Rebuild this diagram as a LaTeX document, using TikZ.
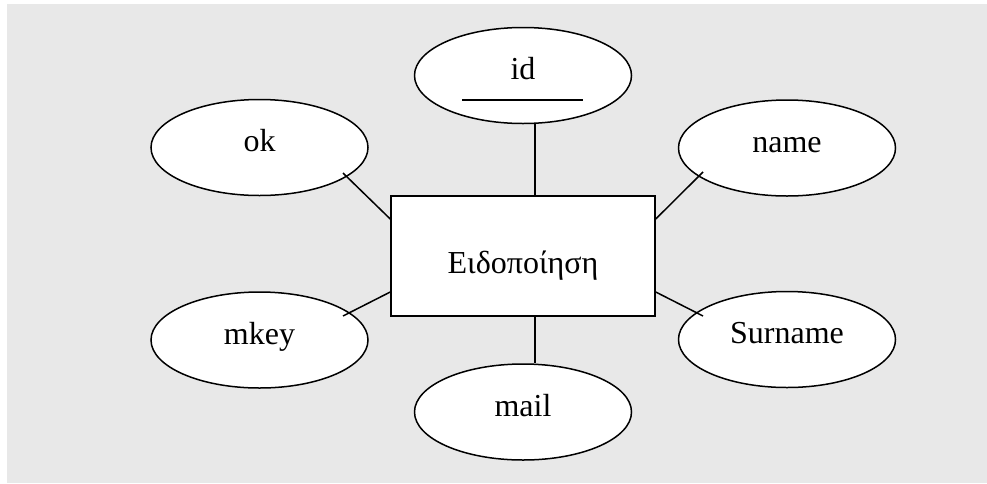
\documentclass[tikz,border=0pt]{standalone}
\usepackage{fontspec}
\setmainfont{Liberation Serif}
\usetikzlibrary{shapes.geometric,calc}
\definecolor{bggray}{RGB}{232,232,232}
\begin{document}
\begin{tikzpicture}[x=1pt,y=-1pt,
  attr/.style={ellipse,draw,fill=white,line width=1.5pt,inner sep=0pt,
    minimum width=217pt,minimum height=96pt,
    font=\fontsize{32}{38}\selectfont,text height=20pt,text depth=12pt},
  entbox/.style={rectangle,draw,fill=white,line width=1.5pt,inner sep=0pt,
    minimum width=264pt,minimum height=120pt,
    font=\fontsize{32}{38}\selectfont,text height=40pt,text depth=6pt},
  conn/.style={line width=1.5pt}]
\useasboundingbox (0,0) rectangle (987,483);
\fill[bggray] (7,4) rectangle (987,483);
\node[entbox] (ent) at (523,256) {Ειδοποίηση};
\node[attr] (id) at (523,75.5) {id};
\node[attr] (ok) at (259.5,147.5) {ok};
\node[attr] (name) at (787,148) {name};
\node[attr] (mkey) at (259.5,340) {mkey};
\node[attr] (surname) at (787,339.5) {Surname};
\node[attr] (mail) at (523,412) {mail};
\draw[conn] ($(id.center)+(-61,24.5)$) -- ($(id.center)+(60,24.5)$);
\draw[conn] ($(id.south)+(12,0)$) -- ($(ent.north)+(12,0)$);
\draw[conn] ($(ent.south)+(12,0)$) -- ($(mail.north)+(12,0)$);
\draw[conn] ($(ok.center)+(83.5,25.5)$) -- ($(ent.west)+(0,-37)$);
\draw[conn] ($(name.center)+(-84,24)$) -- ($(ent.east)+(0,-37)$);
\draw[conn] ($(mkey.center)+(83.5,-24)$) -- ($(ent.west)+(0,36)$);
\draw[conn] ($(surname.center)+(-84,-23.5)$) -- ($(ent.east)+(0,36)$);
\end{tikzpicture}
\end{document}
